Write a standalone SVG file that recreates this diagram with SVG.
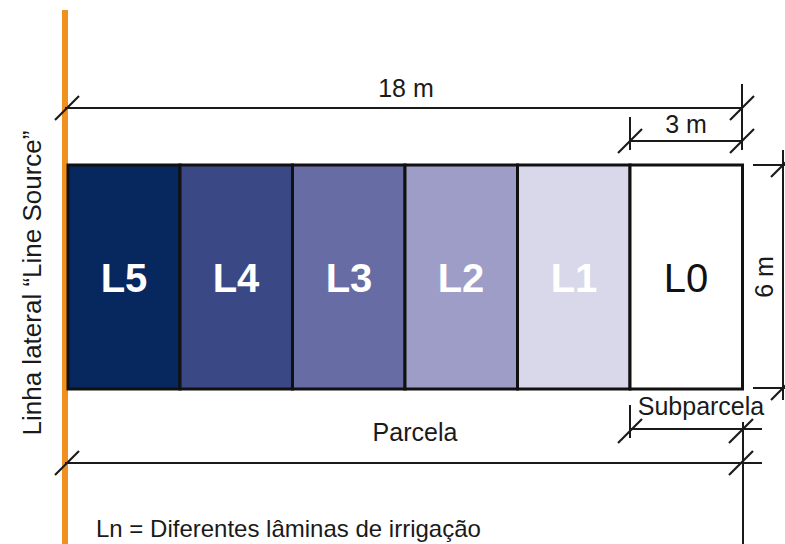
<svg xmlns="http://www.w3.org/2000/svg" width="785" height="544" viewBox="0 0 785 544">
<style>
.dim{stroke:#1a1a1a;stroke-width:2;fill:none}
.tick{stroke:#1a1a1a;stroke-width:2.2}
.lbl{font-family:"Liberation Sans",Arial,sans-serif;font-size:25px;fill:#1a1a1a}
.cell{stroke:#111;stroke-width:3}
.cl{font-family:"Liberation Sans",Arial,sans-serif;font-size:40px;font-weight:bold;fill:#fff;text-anchor:middle}
</style>
<defs>
<line id="sl" x1="-12" y1="12" x2="12" y2="-12" class="tick"/>
</defs>
<rect width="785" height="544" fill="#fff"/>
<g id="source">
<line x1="65" y1="10" x2="65" y2="544" stroke="#f0901e" stroke-width="6"/>
<text class="lbl" text-anchor="middle" transform="translate(41,283) rotate(-90)" style="font-size:26px">Linha lateral “Line Source”</text>
</g>
<g id="cells">
<g id="L5"><rect class="cell" x="68" y="165" width="112" height="224" fill="#07275f"/><text class="cl" x="124" y="292">L5</text></g>
<g id="L4"><rect class="cell" x="180" y="165" width="112.5" height="224" fill="#3b4886"/><text class="cl" x="236" y="292">L4</text></g>
<g id="L3"><rect class="cell" x="292.5" y="165" width="112.5" height="224" fill="#686ca5"/><text class="cl" x="349" y="292">L3</text></g>
<g id="L2"><rect class="cell" x="405" y="165" width="112.5" height="224" fill="#9d9dc7"/><text class="cl" x="461" y="292">L2</text></g>
<g id="L1"><rect class="cell" x="517.5" y="165" width="112.5" height="224" fill="#d8d8ea"/><text class="cl" x="574" y="292">L1</text></g>
<g id="L0"><rect class="cell" x="630" y="165" width="112.5" height="224" fill="#fff"/><text class="cl" x="686" y="292" style="font-weight:normal;fill:#111">L0</text></g>
</g>
<g id="connectors">
<line class="dim" x1="65" y1="108" x2="742" y2="108"/>
<line class="dim" x1="742" y1="84" x2="742" y2="150"/>
<use href="#sl" x="67" y="108"/>
<use href="#sl" x="742" y="108"/>
<line class="dim" x1="630" y1="141" x2="742" y2="141"/>
<line class="dim" x1="630" y1="117" x2="630" y2="150"/>
<use href="#sl" x="630" y="141"/>
<use href="#sl" x="742" y="141"/>
<line class="dim" x1="783" y1="150" x2="783" y2="400"/>
<line class="dim" x1="753" y1="165" x2="785" y2="165"/>
<line class="dim" x1="753" y1="388" x2="785" y2="388"/>
<use href="#sl" x="783" y="165"/>
<use href="#sl" x="783" y="388"/>
<line class="dim" x1="630" y1="429" x2="762" y2="429"/>
<line class="dim" x1="630" y1="405" x2="630" y2="438"/>
<line class="dim" x1="743" y1="422" x2="743" y2="544"/>
<use href="#sl" x="630" y="431"/>
<use href="#sl" x="741" y="431"/>
<line class="dim" x1="65" y1="463" x2="762" y2="463"/>
<use href="#sl" x="67" y="463"/>
<use href="#sl" x="741" y="463"/>
</g>
<g id="labels">
<text class="lbl" x="406" y="97" text-anchor="middle">18 m</text>
<text class="lbl" x="686" y="133" text-anchor="middle">3 m</text>
<text class="lbl" transform="translate(773,277) rotate(-90)" text-anchor="middle">6 m</text>
<text class="lbl" x="701" y="415" text-anchor="middle">Subparcela</text>
<text class="lbl" x="415" y="441" text-anchor="middle">Parcela</text>
<text class="lbl" x="96" y="537" style="font-size:24px">Ln = Diferentes lâminas de irrigação</text>
</g>
</svg>
